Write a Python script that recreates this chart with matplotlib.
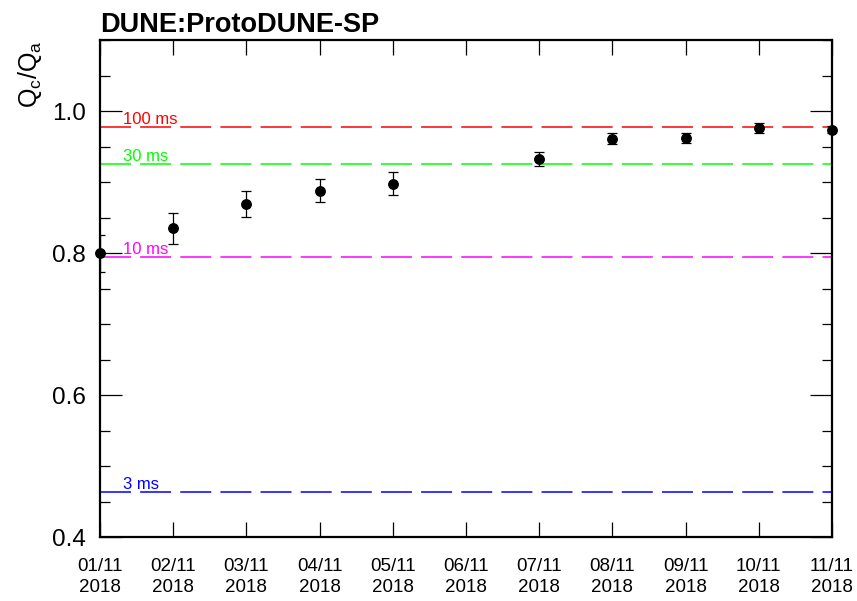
import numpy as np
import pandas as pd
import matplotlib
matplotlib.use("Agg")
import matplotlib.pyplot as plt
import matplotlib.dates as mdates
from matplotlib.ticker import MultipleLocator, FormatStrFormatter

plt.rcParams['font.family'] = ['Liberation Sans', 'DejaVu Sans']
plt.rcParams['mathtext.fontset'] = 'custom'
plt.rcParams['mathtext.rm'] = 'Liberation Sans'
plt.rcParams['lines.scale_dashes'] = False

## charge ratio per day
dates = ["2018-11-01", "2018-11-02", "2018-11-03", "2018-11-04", "2018-11-05",
         "2018-11-07", "2018-11-08", "2018-11-09", "2018-11-10", "2018-11-11"]
ratio = [0.800, 0.835, 0.869, 0.888, 0.898, 0.933, 0.961, 0.962, 0.976, 0.974]
ratio_err = [0.026, 0.022, 0.018, 0.016, 0.016, 0.010, 0.008, 0.0075, 0.007, 0.005]

## expected ratio for a few electron lifetimes
lifetime_labels = ["100 ms", "30 ms", "10 ms", "3 ms"]
lifetime_ratio = [0.977, 0.926, 0.795, 0.464]
lifetime_colors = ["#ff0000", "#00ff00", "#ff00ff", "#0000ff"]

x = pd.to_datetime(dates)

fig = plt.figure(figsize=(8.57, 6.01), dpi=100)
ax = fig.add_axes([0.1167, 0.1057, 0.8541, 0.8277])

for lbl, val, col in zip(lifetime_labels, lifetime_ratio, lifetime_colors):
    ax.axhline(val, color=col, lw=1.1, linestyle=(0, (22.3, 6.6)))
    ax.annotate(lbl, xy=(0.0314, val), xycoords=("axes fraction", "data"),
                xytext=(0, 2.2), textcoords="offset points",
                color=col, fontsize=12, va="baseline", ha="left")

ax.errorbar(x, ratio, yerr=ratio_err, fmt="none", ecolor="black",
            elinewidth=0.9, capsize=3.6, capthick=0.9)
ax.plot(x, ratio, "o", color="black", markersize=6.8, clip_on=False, zorder=5)

ax.set_xlim(pd.Timestamp("2018-11-01"), pd.Timestamp("2018-11-11"))
ax.set_ylim(0.4, 1.1)

ax.xaxis.set_major_locator(mdates.DayLocator())
ax.xaxis.set_major_formatter(mdates.DateFormatter("%d/%m\n%Y"))
ax.yaxis.set_major_locator(MultipleLocator(0.2))
ax.yaxis.set_minor_locator(MultipleLocator(0.05))
ax.yaxis.set_major_formatter(FormatStrFormatter("%.1f"))

ax.tick_params(axis="x", which="major", direction="in", length=10.5, width=0.9,
               top=True, labelsize=13.5, pad=15)
ax.tick_params(axis="x", which="minor", bottom=False, top=False)
ax.tick_params(axis="y", which="major", direction="in", length=16, width=0.9,
               right=True, labelsize=17.5, pad=10)
ax.tick_params(axis="y", which="minor", direction="in", length=7.5, width=0.9,
               right=True)
for lab in ax.get_xticklabels():
    lab.set_multialignment("center")
    lab.set_linespacing(1.3)

for s in ax.spines.values():
    s.set_linewidth(1.6)

ax.set_title("DUNE:ProtoDUNE-SP", loc="left", fontsize=19.5,
             fontweight="bold", pad=6)
ax.set_ylabel(r"Q$_\mathrm{c}$/Q$_\mathrm{a}$", fontsize=18, loc="top")
ax.yaxis.set_label_coords(-0.076, 1.0)

fig.savefig("out.png", dpi=100)
